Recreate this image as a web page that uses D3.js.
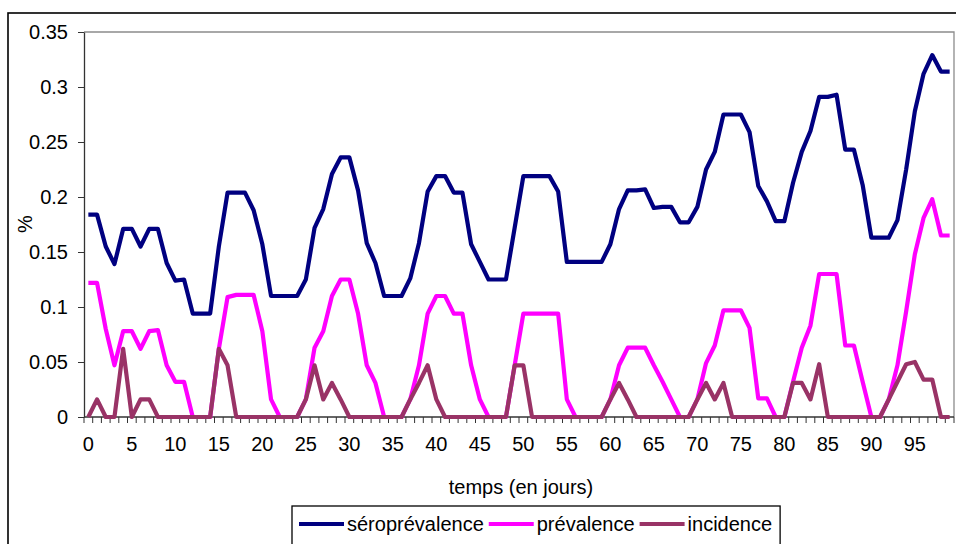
<!DOCTYPE html>
<html><head><meta charset="utf-8">
<script src="https://cdn.jsdelivr.net/npm/d3@7"></script>
<style>
body{margin:0;background:#fff}
svg{display:block}
text{font-family:"Liberation Sans",Arial,sans-serif;fill:#000}
</style>
</head><body>
<script>
// ---- data ----
const days = d3.range(0, 100);
const xTickLabels = [0,5,10,15,20,25,30,35,40,45,50,55,60,65,70,75,80,85,90,95];
const yTickValues = [0,0.05,0.1,0.15,0.2,0.25,0.3,0.35];
const seriesNames = ["séroprévalence","prévalence","incidence"];

const seroprevalence = [
0.184,0.184,0.155,0.139,0.171,0.171,0.155,0.171,0.171,0.140,
0.124,0.125,0.094,0.094,0.094,0.155,0.204,0.204,0.204,0.188,
0.157,0.110,0.110,0.110,0.110,0.125,0.172,0.189,0.221,0.236,
0.236,0.206,0.158,0.140,0.110,0.110,0.110,0.126,0.158,0.205,
0.219,0.219,0.204,0.204,0.157,0.141,0.125,0.125,0.125,0.172,
0.219,0.219,0.219,0.219,0.205,0.141,0.141,0.141,0.141,0.141,
0.157,0.189,0.206,0.206,0.207,0.190,0.191,0.191,0.177,0.177,
0.191,0.225,0.241,0.275,0.275,0.275,0.259,0.210,0.196,0.178,
0.178,0.213,0.241,0.260,0.291,0.291,0.293,0.243,0.243,0.211,
0.163,0.163,0.163,0.179,0.225,0.278,0.312,0.329,0.314,0.314];

const prevalence = [
0.122,0.122,0.080,0.047,0.078,0.078,0.062,0.078,0.079,0.047,
0.032,0.032,0,0,0,0.062,0.109,0.111,0.111,0.111,
0.078,0.016,0,0,0,0.016,0.063,0.078,0.110,0.125,
0.125,0.094,0.047,0.031,0,0,0,0.016,0.047,0.094,
0.110,0.110,0.094,0.094,0.047,0.016,0,0,0,0.047,
0.094,0.094,0.094,0.094,0.094,0.016,0,0,0,0,
0.016,0.047,0.063,0.063,0.063,0.047,0.032,0.016,0,0,
0.016,0.049,0.065,0.097,0.097,0.097,0.081,0.017,0.017,0,
0,0.032,0.063,0.083,0.130,0.130,0.130,0.065,0.065,0.032,
0,0,0.016,0.047,0.096,0.148,0.181,0.198,0.165,0.165];

const incidence = [
0,0.016,0,0,0.062,0,0.016,0.016,0,0,
0,0,0,0,0,0.062,0.047,0,0,0,
0,0,0,0,0,0.016,0.047,0.016,0.031,0.016,
0,0,0,0,0,0,0,0.016,0.031,0.047,
0.016,0,0,0,0,0,0,0,0,0.047,
0.047,0,0,0,0,0,0,0,0,0,
0.016,0.031,0.016,0,0,0,0,0,0,0,
0.016,0.031,0.016,0.031,0,0,0,0,0,0,
0,0.031,0.031,0.016,0.048,0,0,0,0,0,
0,0,0.016,0.032,0.048,0.050,0.034,0.034,0,0];

const colors = ["#000080","#FF00FF","#993366"];
const allSeries = [seroprevalence, prevalence, incidence];

// ---- chart ----
const W = 956, H = 544;
const FS = 20;
const plot = {left:84, right:954, top:32, bottom:417};

const svg = d3.select("body").append("svg").attr("width", W).attr("height", H);

// chart area border
svg.append("rect").attr("x",8).attr("y",13).attr("width",1000).attr("height",600)
  .attr("fill","#fff").attr("stroke","#000").attr("stroke-width",1.6);

const x = d3.scaleBand().domain(days).range([plot.left, plot.right]);
const y = d3.scaleLinear().domain([0, 0.35]).range([plot.bottom, plot.top]);
const cx = d => x(d) + x.bandwidth()/2;

// plot area border (top & right, gray)
svg.append("path")
  .attr("d", `M${plot.left},${plot.top}H${plot.right}V${plot.bottom}`)
  .attr("fill","none").attr("stroke","#8c8c8c").attr("stroke-width",1.3);

// y axis
const yAxis = svg.append("g").attr("transform",`translate(${plot.left},0)`)
  .call(d3.axisLeft(y).tickValues(yTickValues)
    .tickFormat(d => d === 0 ? "0" : String(+d.toFixed(2)))
    .tickSize(6).tickSizeOuter(0).tickPadding(10));
yAxis.select(".domain").attr("stroke","#333").attr("stroke-width",1.3);
yAxis.selectAll(".tick line").attr("stroke","#333");
yAxis.selectAll("text").style("font-size",FS+"px").attr("font-family",null);

// x axis line
svg.append("line").attr("x1",plot.left).attr("x2",plot.right)
  .attr("y1",plot.bottom).attr("y2",plot.bottom)
  .attr("stroke","#333").attr("stroke-width",1.3);
// tick marks at category boundaries
const boundaries = days.map(d => x(d)).concat([plot.right]);
svg.append("g").selectAll("line").data(boundaries).join("line")
  .attr("x1",d=>d).attr("x2",d=>d)
  .attr("y1",plot.bottom).attr("y2",plot.bottom+6)
  .attr("stroke","#333").attr("stroke-width",1);

// x tick labels
const xAxis = svg.append("g").attr("transform",`translate(0,${plot.bottom})`)
  .call(d3.axisBottom(x).tickValues(xTickLabels).tickSize(0).tickPadding(20));
xAxis.select(".domain").remove();
xAxis.selectAll("text").style("font-size",FS+"px").attr("font-family",null);

// axis titles
svg.append("text").attr("x",521).attr("y",494)
  .attr("text-anchor","middle").style("font-size",FS+"px").text("temps (en jours)");
svg.append("text").attr("transform","translate(32,224) rotate(-90)")
  .attr("text-anchor","middle").style("font-size",FS+"px").text("%");

// lines
const line = d3.line().x((v,i) => cx(days[i])).y(v => y(v));
allSeries.forEach((s, k) => {
  svg.append("path").datum(s).attr("d", line)
    .attr("fill","none").attr("stroke",colors[k]).attr("stroke-width",4.2)
    .attr("stroke-linejoin","round").attr("stroke-linecap","butt");
});

// legend
const lg = svg.append("g");
const lgBox = lg.append("rect").attr("fill","#fff").attr("stroke","#000").attr("stroke-width",1.3);
let lx = 299;
const ly = 524;
seriesNames.forEach((name, k) => {
  lg.append("line").attr("x1",lx).attr("x2",lx+45).attr("y1",ly).attr("y2",ly)
    .attr("stroke",colors[k]).attr("stroke-width",4.2);
  const t = lg.append("text").attr("x",lx+48).attr("y",ly+7)
    .style("font-size",FS+"px").text(name);
  lx += 48 + t.node().getComputedTextLength() + 5;
});
lgBox.attr("x",292).attr("y",506).attr("width",Math.max(484, lx-292+3)).attr("height",60);
</script>
</body></html>
